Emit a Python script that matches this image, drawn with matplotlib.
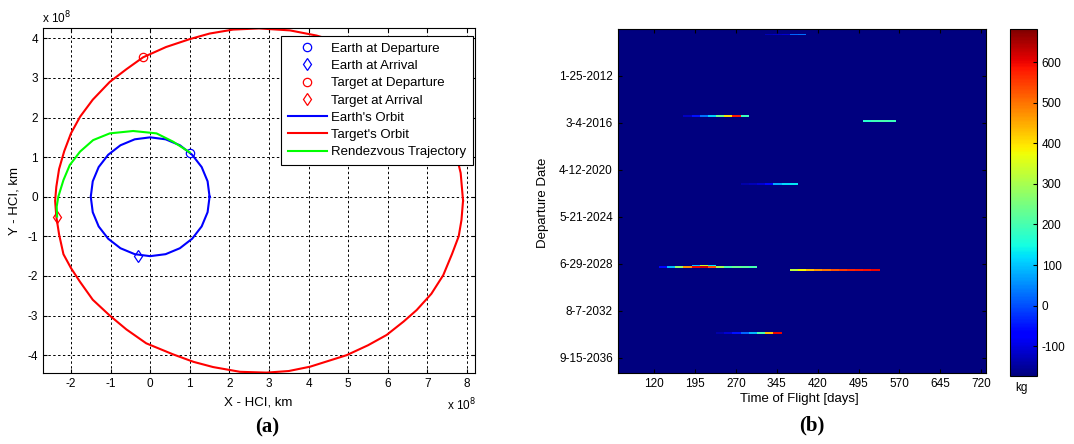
import numpy as np
import matplotlib.pyplot as plt

plt.rcParams['font.family'] = ['Liberation Sans', 'DejaVu Sans']
plt.rcParams['axes.unicode_minus'] = False

# ---- panel (a): orbits, units of 1e8 km ----
target_x = [7.90, 7.84, 7.72, 7.54, 7.30, 6.88, 6.40, 5.96, 5.40, 4.77, 4.20, 3.53, 2.75,
            2.09, 1.50, 1.00, 0.40, -0.18, -0.60, -1.02, -1.45, -1.77, -2.00, -2.17, -2.30,
            -2.37, -2.40, -2.37, -2.30, -2.19, -2.00, -1.77, -1.45, -1.02, -0.60, -0.10,
            0.58, 1.10, 1.59, 2.27, 2.94, 3.50, 4.04, 4.96, 5.50, 5.97, 6.40, 6.73, 7.10,
            7.40, 7.62, 7.79, 7.86, 7.90]
target_y = [-0.10, 0.60, 1.10, 1.50, 1.93, 2.50, 2.95, 3.30, 3.62, 3.90, 4.07, 4.20, 4.25,
            4.22, 4.12, 3.98, 3.78, 3.52, 3.22, 2.90, 2.45, 2.02, 1.60, 1.15, 0.70,
            0.25, -0.10, -0.50, -0.95, -1.45, -1.80, -2.15, -2.60, -3.00, -3.35, -3.70,
            -3.98, -4.17, -4.30, -4.42, -4.44, -4.40, -4.29, -4.00, -3.75, -3.49, -3.15, -2.86, -2.45,
            -1.98, -1.45, -1.00, -0.59, -0.10]

earth_x = [1.50, 1.45, 1.30, 1.06, 0.75, 0.39, 0.00, -0.39, -0.75, -1.06, -1.30, -1.45,
           -1.50, -1.45, -1.30, -1.06, -0.75, -0.39, 0.00, 0.39, 0.75, 1.06, 1.30, 1.45, 1.50]
earth_y = [0.00, 0.39, 0.75, 1.06, 1.30, 1.45, 1.50, 1.45, 1.30, 1.06, 0.75, 0.39,
           0.00, -0.39, -0.75, -1.06, -1.30, -1.45, -1.50, -1.45, -1.30, -1.06, -0.75, -0.39, 0.00]

traj_x = [1.00, 0.58, 0.16, -0.43, -1.02, -1.44, -1.77, -2.03, -2.19, -2.32, -2.36, -2.35]
traj_y = [1.12, 1.39, 1.60, 1.66, 1.60, 1.43, 1.14, 0.80, 0.42, 0.00, -0.25, -0.50]

earth_dep = (1.00, 1.10)
earth_arr = (-0.30, -1.50)
target_dep = (-0.18, 3.52)
target_arr = (-2.35, -0.50)

# ---- panel (b): porkchop-style map ----
tof_days = np.arange(60, 721, 15)          # column centres
dep_edges = np.arange(-1500, 9501, 50)     # days from 1-25-2012
date_ticks = [0, 1500, 3000, 4500, 6000, 7500, 9000]
date_labels = ['1-25-2012', '3-4-2016', '4-12-2020', '5-21-2024',
               '6-29-2028', '8-7-2032', '9-15-2036']
tof_ticks = [120, 195, 270, 345, 420, 495, 570, 645, 720]
cbar_ticks = [-100, 0, 100, 200, 300, 400, 500, 600]
mass_min, mass_max = -173, 682

streak_dep = [-1275, 1325, 1475, 3475, 6075, 6125, 6225, 8225]
streak_tof0 = [330, 180, 510, 285, 195, 135, 375, 240]
streak_vals = [
    [-130, -120, -110, 20, 30],
    [-120, -50, 30, 110, 240, 400, 580, 190],
    [170, 190, 200, 190],
    [-140, -130, -110, -60, 80, 120, 130],
    [100, 330, 130],
    [-60, 90, 280, 470, 600, 620, 530, 300, 200, 230, 220, 200],
    [320, 380, 430, 470, 500, 530, 550, 570, 580, 590, 600],
    [-140, -110, -50, 20, 90, 200, 430, 600],
]

fig = plt.figure(figsize=(10.74, 4.44), dpi=100)

# ---------------- (a) ----------------
ax1 = fig.add_axes([0.0400, 0.1599, 0.4022, 0.7770])
ax1.plot(*earth_dep, 'o', color='b', mfc='none', ms=6, mew=0.9, label='Earth at Departure')
ax1.plot(*earth_arr, 'd', color='b', mfc='none', ms=6, mew=0.9, label='Earth at Arrival')
ax1.plot(*target_dep, 'o', color='r', mfc='none', ms=6, mew=0.9, label='Target at Departure')
ax1.plot(*target_arr, 'd', color='r', mfc='none', ms=6, mew=0.9, label='Target at Arrival')
ax1.plot(earth_x, earth_y, color='#0000ff', lw=1.5, label="Earth's Orbit")
ax1.plot(target_x, target_y, color='#ff0000', lw=1.5, label="Target's Orbit")
ax1.plot(traj_x, traj_y, color='#00ff00', lw=1.5, label='Rendezvous Trajectory')

ax1.set_xlim(-2.707, 8.2)
ax1.set_ylim(-4.45, 4.26)
ax1.set_xticks(range(-2, 9))
ax1.set_yticks(range(-4, 5))
ax1.grid(True, color='k', linestyle=(0, (2.5, 2.5)), linewidth=0.7)
ax1.tick_params(direction='in', top=True, right=True, labelsize=8.5, length=3)
ax1.set_xlabel('X - HCI, km', fontsize=9.5)
ax1.set_ylabel('Y - HCI, km', fontsize=9.5)
ax1.xaxis.set_label_coords(0.498, -0.067)
ax1.yaxis.set_label_coords(-0.053, 0.5)
leg = ax1.legend(loc='upper right', bbox_to_anchor=(0.9954, 0.9768), borderaxespad=0,
                 fontsize=9.5, fancybox=False, framealpha=1, edgecolor='k',
                 handlelength=3.0, handletextpad=0.3, labelspacing=0.38, borderpad=0.5,
                 numpoints=1)
leg.get_frame().set_linewidth(0.8)
fig.text(42 / 1074, 1 - 18 / 444, r'x 10$^8$', fontsize=8.5, va='center')
fig.text(447 / 1074, 1 - 405 / 444, r'x 10$^8$', fontsize=8.5, va='center')

# ---------------- (b) ----------------
Z = np.full((len(dep_edges) - 1, len(tof_days)), float(mass_min))
for d, t0, vals in zip(streak_dep, streak_tof0, streak_vals):
    r = int((d - dep_edges[0]) // 50)
    c = int((t0 - tof_days[0]) // 15)
    Z[r, c:c + len(vals)] = vals

ax2 = fig.add_axes([0.5751, 0.1592, 0.3426, 0.7748])
im = ax2.imshow(Z, cmap='jet', vmin=mass_min, vmax=mass_max, aspect='auto',
                interpolation='nearest',
                extent=[tof_days[0] - 7.5, tof_days[-1] + 7.5, dep_edges[-1], dep_edges[0]])
ax2.set_xlim(52.5, 728.5)
ax2.set_ylim(9498, -1481)
ax2.set_xticks(tof_ticks)
ax2.set_yticks(date_ticks)
ax2.set_yticklabels(date_labels)
ax2.tick_params(direction='in', top=True, right=True, labelsize=8.5, length=3)
ax2.set_xlabel('Time of Flight [days]', fontsize=9.5)
ax2.set_ylabel('Departure Date', fontsize=9.5)
ax2.xaxis.set_label_coords(0.495, -0.057)
ax2.yaxis.set_label_coords(-0.187, 0.495)

cax = fig.add_axes([0.9404, 0.1538, 0.0251, 0.7809])
cb = fig.colorbar(im, cax=cax, ticks=cbar_ticks)
cb.ax.tick_params(direction='in', labelsize=8.5, length=3)
cb.outline.set_linewidth(0.8)
fig.text(1021 / 1074, 1 - 388 / 444, 'kg', fontsize=8.5, ha='center', va='center')

for ax in (ax1, ax2):
    for s in ax.spines.values():
        s.set_linewidth(0.8)

fig.text(267 / 1074, 1 - 427 / 444, '(a)', family='Liberation Serif', fontweight='bold',
         fontsize=15, ha='center', va='center')
fig.text(812 / 1074, 1 - 425 / 444, '(b)', family='Liberation Serif', fontweight='bold',
         fontsize=15, ha='center', va='center')

fig.savefig('out.png', dpi=100)
